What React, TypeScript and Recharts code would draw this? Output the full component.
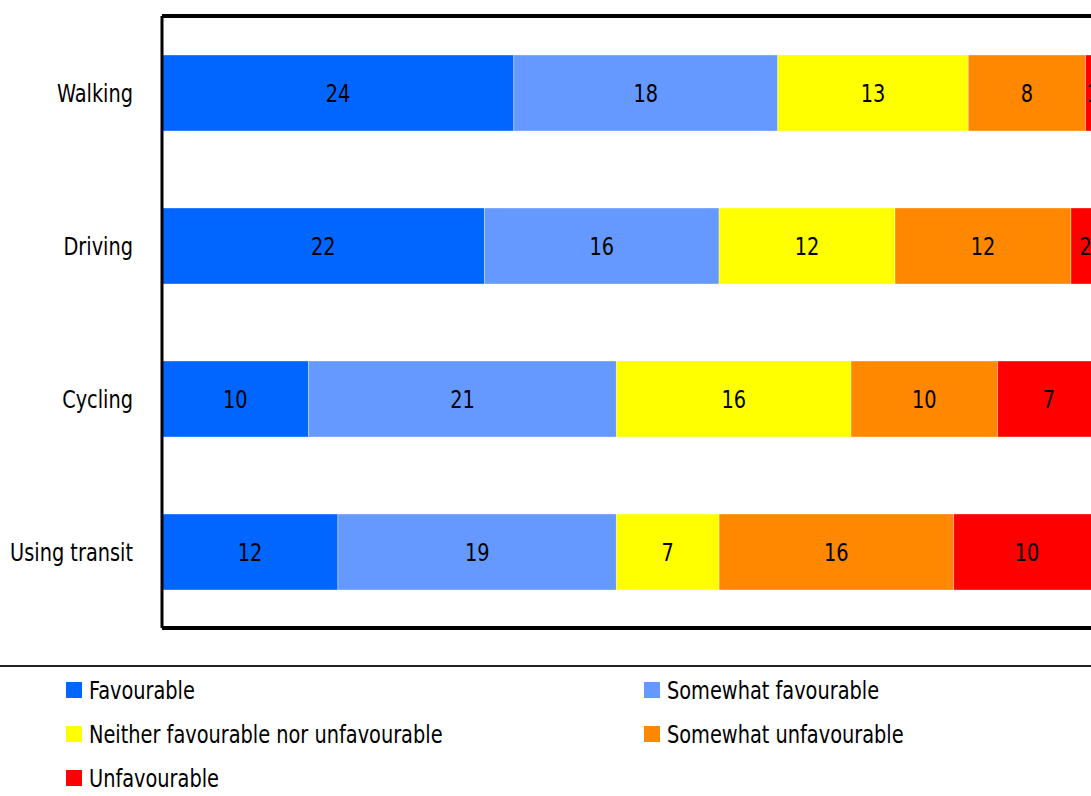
import React from 'react';
import { BarChart, Bar, XAxis, YAxis, LabelList } from 'recharts';

const categories = ['Walking', 'Driving', 'Cycling', 'Using transit'];
const favourable = [24, 22, 10, 12];
const somewhatFavourable = [18, 16, 21, 19];
const neither = [13, 12, 16, 7];
const somewhatUnfavourable = [8, 12, 10, 16];
const unfavourable = [1, 2, 7, 10];

const series = [
  { key: 'favourable', name: 'Favourable', color: '#0066FF', values: favourable },
  { key: 'somewhatFavourable', name: 'Somewhat favourable', color: '#6699FF', values: somewhatFavourable },
  { key: 'neither', name: 'Neither favourable nor unfavourable', color: '#FFFF00', values: neither },
  { key: 'somewhatUnfavourable', name: 'Somewhat unfavourable', color: '#FF8800', values: somewhatUnfavourable },
  { key: 'unfavourable', name: 'Unfavourable', color: '#FF0000', values: unfavourable },
];

const data = categories.map((cat) => {
  const row: Record<string, string | number> = { cat };
  const i = categories.indexOf(cat);
  series.forEach((s) => {
    row[s.key] = s.values[i];
  });
  return row;
});

const FONT = '"DejaVu Sans Condensed", "DejaVu Sans", sans-serif';
const SQUEEZE = 0.86;

// condensed look: the narrow font is not installed, so squeeze horizontally
const CategoryTick = (props: any) => {
  const { x, y, payload } = props;
  return (
    <g transform={`translate(${x},${y})`}>
      <text
        x={0}
        y={0}
        textAnchor="end"
        dominantBaseline="central"
        transform={`scale(${SQUEEZE},1)`}
        fontSize={25}
        fill="#000"
      >
        {payload.value}
      </text>
    </g>
  );
};

const BarValue = (props: any) => {
  const { x, y, width, height, value } = props;
  const cx = Number(x) + Number(width) / 2;
  const cy = Number(y) + Number(height) / 2;
  return (
    <g transform={`translate(${cx},${cy})`}>
      <text
        x={0}
        y={0}
        textAnchor="middle"
        dominantBaseline="central"
        transform={`scale(${SQUEEZE},1)`}
        fontSize={25}
        fill="#000"
      >
        {value}
      </text>
    </g>
  );
};

const App: React.FC = () => {
  return (
    <div
      style={{
        position: 'absolute',
        left: 0,
        top: 0,
        width: 1091,
        height: 796,
        overflow: 'hidden',
        background: '#fff',
        fontFamily: FONT,
      }}
    >
      <BarChart
        width={1628}
        height={640}
        data={data}
        layout="vertical"
        margin={{ top: 15, right: 0, left: 0, bottom: 11 }}
      >
        <XAxis
          type="number"
          domain={[0, 100]}
          height={1}
          tick={false}
          tickLine={false}
          axisLine={{ stroke: '#000', strokeWidth: 4 }}
        />
        <XAxis
          xAxisId="top"
          orientation="top"
          type="number"
          domain={[0, 100]}
          height={1}
          tick={false}
          tickLine={false}
          axisLine={{ stroke: '#000', strokeWidth: 4 }}
        />
        <YAxis
          type="category"
          dataKey="cat"
          width={162}
          tickLine={false}
          axisLine={false}
          tickSize={0}
          tickMargin={29}
          tick={<CategoryTick />}
        />
        <YAxis
          yAxisId="frame"
          type="number"
          domain={[0, 4]}
          ticks={[0, 1, 2, 3, 4]}
          width={1}
          mirror
          tick={false}
          tickSize={-7}
          tickLine={{ stroke: '#999', strokeWidth: 2 }}
          axisLine={{ stroke: '#000', strokeWidth: 3 }}
        />
        {series.map((s) => (
          <Bar
            key={s.key}
            dataKey={s.key}
            name={s.name}
            stackId="a"
            fill={s.color}
            barSize={76}
            stroke="rgba(255,255,255,0.35)"
            strokeWidth={1}
            isAnimationActive={false}
          >
            <LabelList dataKey={s.key} content={<BarValue />} />
          </Bar>
        ))}
      </BarChart>

      <div
        style={{
          position: 'absolute',
          left: 0,
          top: 665,
          width: 1091,
          borderTop: '2px solid #222',
        }}
      />
      {series.map((s, i) => (
        <div
          key={s.key}
          style={{
            position: 'absolute',
            left: i % 2 === 0 ? 66 : 644,
            top: 676 + Math.floor(i / 2) * 44,
            height: 28,
            display: 'flex',
            alignItems: 'center',
            fontSize: 25,
            color: '#000',
            whiteSpace: 'nowrap',
          }}
        >
          <span style={{ width: 16, height: 16, background: s.color, marginRight: 7, display: 'inline-block' }} />
          <span style={{ display: 'inline-block', transform: `scaleX(${SQUEEZE})`, transformOrigin: 'left center' }}>
            {s.name}
          </span>
        </div>
      ))}
    </div>
  );
};

export default App;
